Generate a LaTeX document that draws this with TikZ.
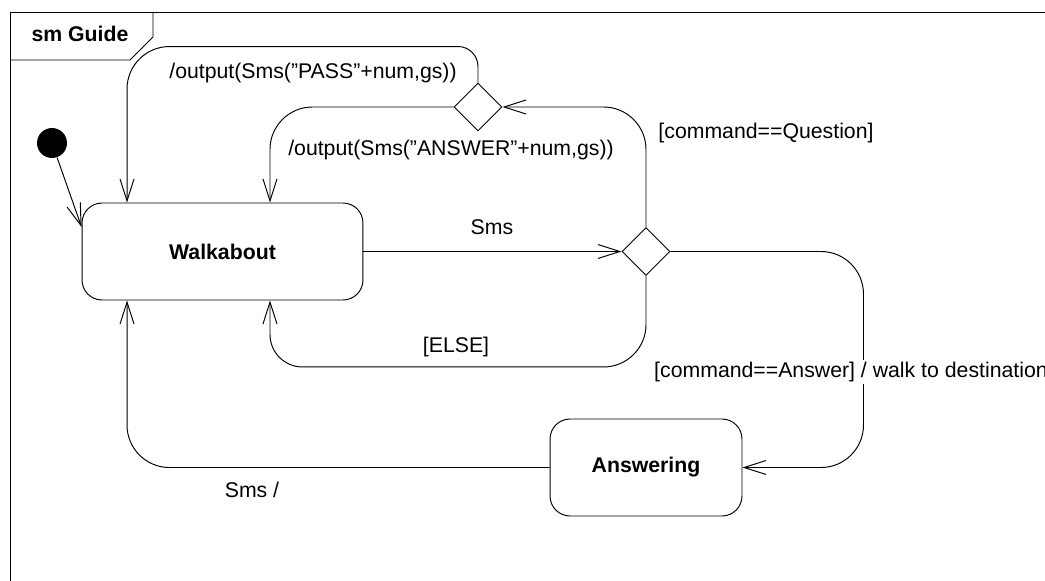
\documentclass[tikz,border=0pt]{standalone}
\usepackage{fontspec}
\setmainfont{Liberation Sans}
\usetikzlibrary{shapes.geometric,arrows.meta,positioning,calc}

\begin{document}
\begin{tikzpicture}[x=0.02cm,y=-0.02cm,line width=0.55pt,
  every node/.style={font=\fontsize{12.1}{14}\selectfont},
  stbox/.style={draw,rounded corners=0.4cm,minimum height=1.94cm,font=\fontsize{12.1}{14}\selectfont\bfseries},
  choice/.style={draw,diamond,minimum size=0.96cm,inner sep=0pt},
  startdot/.style={circle,fill=black,minimum size=0.6cm,inner sep=0pt},
  trans/.style={-{Straight Barb[length=0.44cm,width=0.28cm]},rounded corners=0.85cm},
  lbl/.style={inner sep=1pt}]
\useasboundingbox (0,0) rectangle (1045,581);

% Frame with name tab
\draw (10,600) -- (10,12) -- (1060,12);
\draw (10,60) -- (130,60) -- (153,37) -- (153,12);
\node[font=\fontsize{12.1}{14}\selectfont\bfseries] (title) at (80,34) {sm Guide};

% States and choices
\node[startdot] (init) at (52,143) {};
\node[stbox,minimum width=5.62cm] (walk) at (222.5,251.5) {Walkabout};
\node[stbox,minimum width=3.84cm] (ans) at (646,467.5) {Answering};
\node[choice] (d1) at (478,107) {};
\node[choice] (d2) at (646,251.5) {};

% Transitions
\draw[trans] (init) -- ([yshift=0.49cm]walk.west);
\draw[trans] (walk) -- (d2);
\draw[trans] (d2.north) |- (d1.east);
\draw[trans,rounded corners=0.4cm] (d1.north) -- ++(0,-36) [rounded corners=0.85cm] -| ([xshift=-1.91cm]walk.north);
\draw[trans] (d1.west) -| ([xshift=0.95cm]walk.north);
\draw[trans] (d2.south) -- ++(0,91) [rounded corners=0.65cm] -| ([xshift=0.95cm]walk.south);
\draw[trans] (d2.east) -- ++(193,0) |- (ans.east);
\draw[trans] (ans.west) -| ([xshift=-1.91cm]walk.south);

% Labels
\node[lbl] at (313,73) {/output(Sms(''PASS''+num,gs))};
\node[lbl] at (451,150) {/output(Sms(''ANSWER''+num,gs))};
\node[lbl] at (766,133) {[command==Question]};
\node[lbl] at (492,227) {Sms};
\node[lbl] at (456,347) {[ELSE]};
\node[lbl,fill=white,anchor=west] at (652,372) {[command==Answer] / walk to destination};
\node[lbl] at (252,490) {Sms /};
\end{tikzpicture}
\end{document}
